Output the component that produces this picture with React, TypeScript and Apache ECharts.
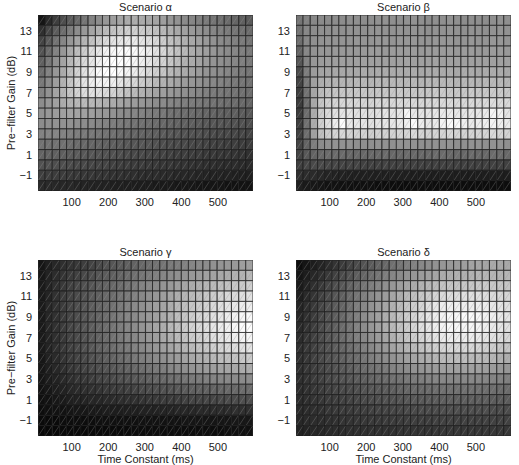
import React, { useEffect, useRef } from "react";
import * as echarts from "echarts";

// Time constant (ms) at each column centre
const xValues = [18, 37, 57, 77, 96, 116, 135, 155, 175, 194, 214, 233, 253, 273, 292, 312, 331, 351, 371, 390, 410, 429, 449, 469, 488, 508, 527, 547, 567, 586];
// Pre-filter gain (dB) of each row, top to bottom
const yValues = [14, 13, 12, 11, 10, 9, 8, 7, 6, 5, 4, 3, 2, 1, 0, -1, -2];
const xTickValues = [100, 200, 300, 400, 500];
const yTickValues = [-1, 1, 3, 5, 7, 9, 11, 13];
const titles = ["Scenario α", "Scenario β", "Scenario γ", "Scenario δ"];

// intensity 0 (black) .. 100 (white), rows follow yValues
const alphaRows = [
  [8,16,24,30,35,40,45,50,54,58,61,64,66,67,66,65,63,61,58,56,53,51,49,47,45,43,41,39,37,35],
  [18,27,35,42,48,54,59,64,68,72,75,78,80,80,79,77,74,71,68,65,62,59,56,54,51,49,47,45,43,41],
  [26,35,44,51,58,64,70,75,80,84,87,89,90,90,88,86,83,79,75,72,68,65,62,59,56,53,51,49,47,45],
  [32,41,50,58,66,73,79,85,89,93,95,97,97,96,94,91,87,83,79,75,71,67,64,61,58,55,53,51,49,47],
  [37,46,55,63,71,78,84,89,93,96,98,98,97,95,92,89,85,81,77,73,69,66,63,60,57,55,53,51,49,47],
  [42,50,58,66,74,81,87,92,96,98,98,96,94,91,88,84,80,76,72,69,66,63,60,57,55,53,51,49,47,45],
  [46,53,61,69,76,83,88,92,94,94,92,89,86,83,79,76,72,69,66,63,60,58,56,54,52,50,48,46,45,44],
  [50,56,63,70,76,81,85,87,86,84,81,78,75,72,69,66,63,61,59,57,55,53,51,49,47,46,45,44,43,42],
  [54,58,62,66,69,71,72,71,70,68,66,64,62,60,58,56,54,53,51,50,48,47,46,45,44,43,42,41,40,39],
  [56,58,60,62,63,63,62,61,59,58,56,54,53,51,50,48,47,46,44,43,42,41,40,39,38,37,36,36,35,34],
  [54,55,56,56,56,55,54,53,51,50,48,47,46,44,43,42,41,40,39,38,37,36,35,34,33,33,32,31,31,30],
  [50,51,51,50,49,48,47,46,45,44,43,41,40,39,38,37,36,35,34,33,32,31,31,30,29,28,28,27,27,26],
  [44,44,44,43,42,41,40,39,38,37,36,35,34,33,33,32,31,30,29,29,28,27,27,26,25,25,24,24,23,23],
  [38,38,37,36,35,35,34,33,32,31,31,30,29,28,28,27,26,26,25,24,24,23,23,22,22,21,21,20,20,19],
  [31,31,30,30,29,28,28,27,26,26,25,24,24,23,23,22,22,21,21,20,20,19,19,18,18,17,17,17,16,16],
  [24,24,23,23,22,22,21,21,20,20,19,19,18,18,17,17,17,16,16,15,15,15,14,14,13,13,13,12,12,12],
  [16,16,15,15,15,14,14,13,13,13,12,12,12,11,11,11,10,10,10,9,9,9,8,8,8,8,7,7,7,7],
];

const betaRows = [
  [45,50,52,53,53,54,54,55,55,54,55,56,56,55,55,56,56,55,54,55,55,56,55,54,55,55,54,55,56,55],
  [44,52,54,55,55,56,55,56,56,55,56,57,56,56,57,56,57,56,55,56,56,57,56,55,56,56,55,56,57,56],
  [42,52,55,56,57,57,57,57,58,57,57,58,58,57,58,58,58,57,57,58,58,58,57,57,58,57,57,58,58,57],
  [38,52,56,58,58,59,59,59,59,59,60,60,59,60,60,60,60,59,60,60,60,60,59,60,60,59,59,60,60,59],
  [33,50,58,60,61,61,62,61,62,62,62,62,62,62,62,63,62,62,62,63,62,62,62,62,62,62,62,62,62,62],
  [29,48,60,63,64,65,65,65,65,66,65,66,66,66,66,66,66,65,66,66,66,66,65,66,66,65,66,66,66,65],
  [26,46,62,67,69,70,70,70,71,71,70,71,71,71,71,71,71,70,71,71,71,71,70,71,71,70,71,71,71,70],
  [24,44,64,72,75,76,77,77,77,77,76,77,77,77,78,77,77,77,77,78,78,77,77,77,78,77,77,78,78,77],
  [23,42,65,76,80,82,83,83,83,82,82,83,83,83,84,84,83,83,83,84,84,84,83,83,84,83,84,85,84,83],
  [23,42,66,79,84,87,88,88,87,87,86,87,88,88,89,95,89,88,88,89,90,90,89,88,89,89,90,94,93,88],
  [24,43,66,80,86,92,97,90,89,88,87,88,89,89,90,92,96,91,89,90,94,96,95,92,90,91,92,93,92,90],
  [25,42,62,74,79,82,83,82,81,81,80,81,81,81,82,82,83,82,81,82,82,83,82,81,82,82,82,83,82,81],
  [26,38,48,53,55,56,56,56,55,55,55,56,56,55,56,56,56,55,55,56,56,56,55,55,56,56,55,56,56,55],
  [26,34,38,40,41,41,41,40,40,40,40,40,41,40,40,41,40,40,40,41,41,40,40,40,41,40,40,41,41,40],
  [24,27,28,28,27,27,26,26,26,25,25,25,26,25,25,25,25,25,25,25,25,25,25,25,25,25,25,25,25,25],
  [18,17,16,15,14,13,13,12,12,12,12,12,12,12,12,12,11,11,11,11,11,11,11,11,11,11,11,11,11,11],
  [12,10,9,8,7,7,6,6,6,6,6,5,5,5,5,5,5,5,5,5,5,5,5,5,5,5,5,5,5,5],
];

const gammaRows = [
  [8,12,15,18,20,22,24,26,28,31,33,35,37,38,40,42,44,45,47,48,50,51,53,54,56,57,58,59,61,62],
  [9,13,17,20,23,25,28,30,33,35,37,39,41,43,45,47,49,51,53,55,57,59,60,62,63,65,66,68,69,71],
  [10,14,18,22,25,28,31,33,36,38,40,42,45,47,50,52,54,57,59,62,64,66,68,70,72,74,75,77,78,80],
  [10,14,19,23,26,29,32,35,37,40,42,45,47,50,52,55,58,61,64,67,70,72,74,77,79,81,83,84,86,87],
  [10,15,19,23,27,30,33,36,39,41,44,47,50,53,55,58,61,64,67,71,74,76,79,81,84,86,88,89,91,92],
  [10,15,19,23,27,30,33,36,39,42,45,48,51,53,56,59,62,66,69,73,76,79,82,84,87,89,91,93,95,96],
  [10,15,19,23,27,30,33,36,39,42,45,48,51,54,57,60,64,67,71,74,78,81,84,86,89,91,93,95,97,98],
  [10,14,18,22,26,29,32,35,38,41,44,47,50,52,55,58,61,65,68,72,75,78,80,83,86,88,90,92,94,95],
  [10,14,18,22,25,28,31,34,37,39,42,45,47,50,52,55,58,61,64,67,70,72,75,77,80,82,84,85,87,88],
  [9,13,16,20,23,26,28,31,33,36,38,41,43,46,48,50,53,55,58,60,63,65,67,69,71,73,74,75,77,78],
  [9,12,15,18,21,24,26,28,30,32,34,36,38,40,42,44,46,48,51,53,55,57,58,60,61,63,64,65,66,67],
  [8,11,13,16,18,21,22,24,26,27,29,31,32,34,35,37,39,40,42,43,45,46,47,49,50,51,52,53,53,54],
  [7,9,11,13,15,17,18,19,20,22,23,24,25,26,28,29,30,31,32,34,35,36,37,37,38,39,40,40,41,41],
  [6,7,9,10,12,13,14,15,15,16,17,18,19,19,20,21,22,23,23,24,25,26,26,27,27,28,29,29,30,30],
  [5,6,7,7,8,9,9,10,10,11,11,11,12,12,13,13,13,14,14,15,15,15,16,16,17,17,17,18,18,18],
  [4,4,4,5,5,5,5,5,6,6,6,6,6,6,7,7,7,7,7,7,8,8,8,8,8,8,8,9,9,9],
  [3,3,3,4,4,4,4,4,4,4,4,4,4,5,5,5,5,5,5,5,5,5,5,5,5,5,6,6,6,6],
];

const deltaRows = [
  [5,8,11,14,17,20,23,26,29,32,35,38,40,43,45,48,50,52,54,56,58,59,60,61,63,64,64,65,65,65],
  [8,11,15,18,22,25,29,32,36,39,42,45,48,51,53,56,58,60,62,64,66,67,68,68,69,70,70,70,70,70],
  [10,14,18,22,26,30,34,38,41,45,48,51,55,58,61,64,66,69,71,73,75,76,76,77,77,78,78,77,77,76],
  [12,16,20,25,29,33,37,41,45,49,53,57,60,64,67,71,74,77,79,82,84,85,85,86,86,86,85,84,83,82],
  [14,18,22,27,31,35,39,43,48,52,56,60,64,68,72,76,79,82,86,89,91,92,92,92,92,92,91,89,88,86],
  [15,19,23,28,32,36,40,45,49,54,58,62,67,71,75,79,82,86,89,92,94,95,95,96,96,95,93,92,90,88],
  [16,20,24,29,33,37,41,45,50,54,58,62,67,71,75,79,82,86,89,92,94,95,95,95,95,94,92,90,89,87],
  [17,21,25,29,33,37,41,45,49,52,56,60,64,68,72,76,79,82,85,88,90,91,91,91,91,90,88,86,85,83],
  [18,22,25,29,32,36,39,42,45,49,52,56,59,63,66,70,72,75,78,80,82,83,83,83,83,82,80,79,77,76],
  [18,21,25,28,31,34,37,40,42,45,48,51,54,56,59,62,64,66,68,70,72,72,73,73,72,72,71,70,68,67],
  [18,21,24,26,29,32,34,36,39,41,43,45,47,50,52,54,56,57,59,60,62,62,62,62,62,62,61,60,59,58],
  [18,20,23,25,28,30,32,33,35,36,38,40,41,43,44,46,47,48,50,51,52,52,52,52,52,52,51,50,50,49],
  [17,19,21,23,25,27,28,29,30,32,33,34,35,36,38,39,40,40,41,42,43,43,43,43,43,43,42,42,41,41],
  [17,18,20,21,23,24,25,26,27,28,29,30,31,31,32,33,34,34,35,35,36,36,36,36,36,36,36,35,35,35],
  [16,17,18,19,21,22,23,23,24,24,25,26,26,27,27,28,28,29,29,29,30,30,30,30,30,30,30,29,29,29],
  [15,16,17,17,18,19,20,20,21,21,22,22,23,23,23,24,24,24,24,25,25,25,25,25,25,25,25,25,25,25],
  [13,14,15,15,16,17,17,18,18,18,19,19,19,19,20,20,20,20,20,21,21,21,21,21,21,21,21,21,21,21],
];

const panels = [alphaRows, betaRows, gammaRows, deltaRows];

const CELL_W = 19.6;
const X_MIN = 8;
const X_MAX = 596;
const Y_MIN = -2.5;
const Y_MAX = 14.5;
const FONT = "Liberation Sans, Arial, sans-serif";

const gridPos = [
  { left: 38, top: 15 },
  { left: 296, top: 15 },
  { left: 38, top: 260 },
  { left: 296, top: 260 },
];
const GW = 215;
const GH = 176;

function fmt(v: number) {
  return v < 0 ? "\u2212" + Math.abs(v) : String(v);
}

export default function App() {
  const ref = useRef<HTMLDivElement>(null);
  useEffect(() => {
    document.body.style.margin = "0";
    if (!ref.current) return;
    const chart = echarts.init(ref.current, null, { renderer: "svg" });

    const grids = gridPos.map((g) => ({ left: g.left, top: g.top, width: GW, height: GH }));
    const xAxes = gridPos.map((_, i) => ({
      type: "value",
      gridIndex: i,
      min: X_MIN,
      max: X_MAX,
      axisLine: { show: false },
      axisTick: { show: false },
      splitLine: { show: false },
      axisLabel: {
        customValues: xTickValues,
        color: "#222",
        fontFamily: FONT,
        fontSize: 11,
        margin: 5,
      },
    }));
    const yAxes = gridPos.map((_, i) => ({
      type: "value",
      gridIndex: i,
      min: Y_MIN,
      max: Y_MAX,
      axisLine: { show: false },
      axisTick: { show: false },
      splitLine: { show: false },
      axisLabel: {
        customValues: yTickValues,
        formatter: (v: number) => fmt(v),
        color: "#222",
        fontFamily: FONT,
        fontSize: 11,
        margin: 6,
      },
    }));

    const series = panels.map((rows, i) => {
      const data: number[][] = [];
      rows.forEach((row, r) => {
        row.forEach((v, c) => data.push([xValues[c], yValues[r], v]));
      });
      return {
        type: "custom",
        xAxisIndex: i,
        yAxisIndex: i,
        clip: true,
        data,
        renderItem: (params: any, api: any) => {
          const x = api.value(0);
          const y = api.value(1);
          const v = api.value(2);
          const p0 = api.coord([x - CELL_W / 2, y - 0.5]);
          const p1 = api.coord([x + CELL_W / 2, y + 0.5]);
          const g = Math.min(255, Math.round(v * 2.6));
          return {
            type: "group",
            children: [
              {
                type: "rect",
                shape: { x: p0[0], y: p1[1], width: p1[0] - p0[0], height: p0[1] - p1[1] },
                style: { fill: `rgb(${g},${g},${g})`, stroke: "#1c1c1c", lineWidth: 0.75 },
              },
              {
                type: "line",
                shape: { x1: p0[0] + 0.5, y1: p0[1] - 0.5, x2: p1[0] - 0.5, y2: p1[1] + 0.5 },
                style: { stroke: "rgba(150,150,150,0.55)", lineWidth: 0.6 },
              },
            ],
          };
        },
      };
    });

    const graphic: any[] = [];
    gridPos.forEach((g, i) => {
      graphic.push({
        type: "text",
        x: g.left + GW / 2,
        y: g.top - 8,
        style: {
          text: titles[i],
          font: `11px ${FONT}`,
          fill: "#222",
          textAlign: "center",
          textVerticalAlign: "middle",
        },
      });
    });
    [0, 2].forEach((i) => {
      const g = gridPos[i];
      graphic.push({
        type: "text",
        x: 11,
        y: g.top + GH / 2,
        rotation: Math.PI / 2,
        style: {
          text: "Pre\u2212filter Gain (dB)",
          font: `11px ${FONT}`,
          fill: "#222",
          textAlign: "center",
          textVerticalAlign: "middle",
        },
      });
    });
    [2, 3].forEach((i) => {
      const g = gridPos[i];
      graphic.push({
        type: "text",
        x: g.left + GW / 2,
        y: g.top + GH + 23,
        style: {
          text: "Time Constant (ms)",
          font: `11px ${FONT}`,
          fill: "#222",
          textAlign: "center",
          textVerticalAlign: "middle",
        },
      });
    });

    chart.setOption({
      animation: false,
      backgroundColor: "#fff",
      grid: grids,
      xAxis: xAxes,
      yAxis: yAxes,
      series,
      graphic,
    } as any);
    return () => chart.dispose();
  }, []);
  return <div ref={ref} style={{ width: 519, height: 465 }} />;
}
